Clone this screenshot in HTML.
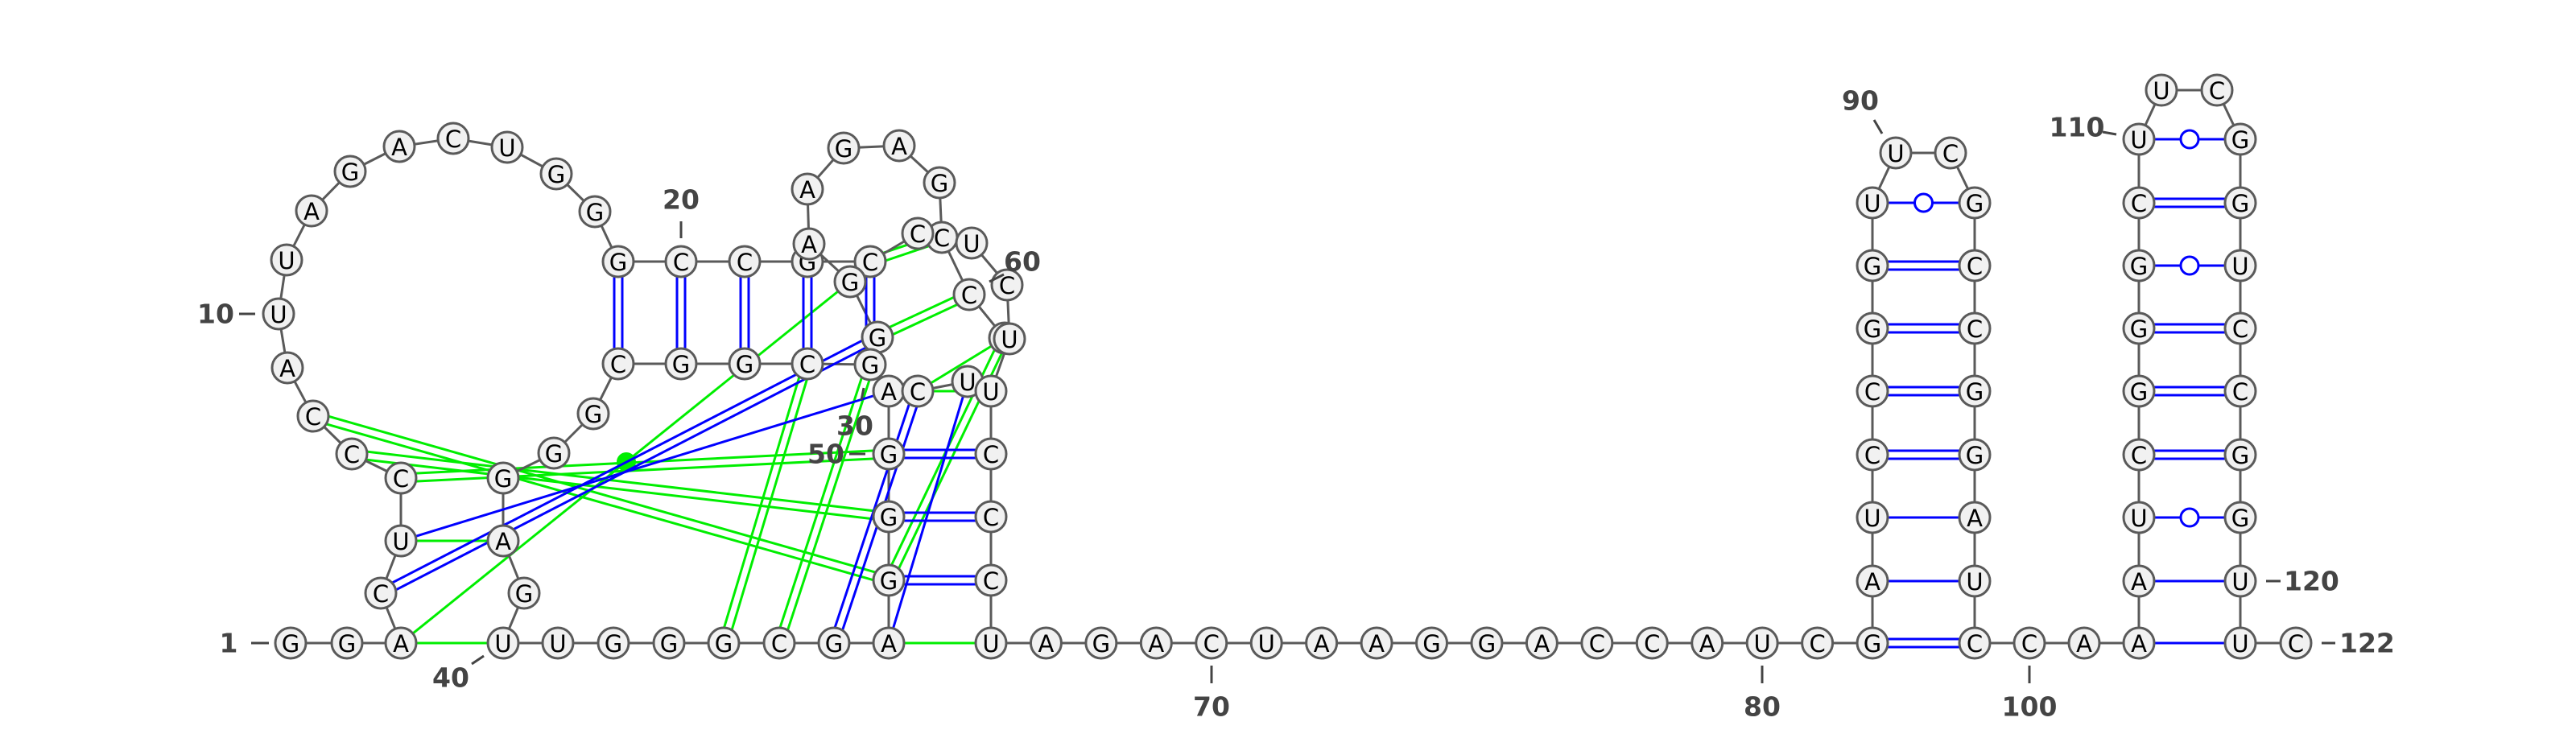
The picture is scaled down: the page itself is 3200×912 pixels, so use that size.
<!DOCTYPE html>
<html><head><meta charset="utf-8"><style>
html,body{margin:0;padding:0;background:#fff;}
svg{display:block;}
.nt{font-family:"DejaVu Sans","Liberation Sans",sans-serif;font-size:29px;fill:#000;text-anchor:middle;dominant-baseline:central;}
.lbl{font-family:"DejaVu Sans","Liberation Sans",sans-serif;font-size:33px;font-weight:bold;fill:#444;dominant-baseline:central;}
</style></head><body>
<svg id="chart" width="3200" height="912" viewBox="0 0 3200 912" xmlns="http://www.w3.org/2000/svg">
<g id="lines-green"></g>
<g id="lines-bb"></g>
<g id="lines-pair"></g>
<g id="nodes"></g>
<g id="labels"></g>
</svg>
<script>
const NS="http://www.w3.org/2000/svg";
const nodeIds=[];const nodeLetters=[];const nodeX=[];const nodeY=[];
function N(id,l,x,y){nodeIds.push(id);nodeLetters.push(l);nodeX.push(x);nodeY.push(y);}
N(1,'G',361,799);N(2,'G',431,799);N(3,'A',498,799);N(4,'C',473,737);N(5,'U',498,672);
N(6,'C',498,594);N(7,'C',437,564);N(8,'C',389,517);N(9,'A',357,457);N(10,'U',346,390);
N(11,'U',356,323);N(12,'A',387,262);N(13,'G',435,213);N(14,'A',496,182);N(15,'C',563,172);
N(16,'U',630,183);N(17,'G',691,216);N(18,'G',739,263);N(19,'G',768,325);N(20,'C',846,325);
N(21,'C',925,325);N(22,'G',1003,325);N(23,'C',1081,325);
N('a','A',1005,303);N('b','A',1003,235);N('c','G',1048,184);N('d','A',1117,181);N('e','G',1167,227);
N('f','C',1170,295);N('g','C',1140,290);N('h','U',1207,302);N(60,'C',1251,354);N('i','C',1204,366);
N('j','U',1248,420);N('k','U',1254,421);N(28,'G',1056,350);N(29,'G',1090,419);
N(30,'G',1081,453);N(31,'C',1003,452);N(32,'G',925,452);N(33,'G',846,452);N(34,'C',768,452);
N(35,'G',737,514);N(36,'G',688,563);N(37,'G',625,594);N(38,'A',625,672);N(39,'G',651,737);
N(40,'U',625,799);N(41,'U',693,799);N(42,'G',762,799);N(43,'G',831,799);N(44,'G',899,799);
N(45,'C',968,799);N(46,'G',1036,799);N(47,'A',1104,799);N(48,'G',1104,721);N(49,'G',1104,642);
N(50,'G',1104,564);N(51,'A',1104,486);N(52,'C',1140,486);N(53,'U',1202,474);
N(62,'U',1231,486);N(63,'C',1231,564);N(64,'C',1231,642);N(65,'C',1231,721);
const tail="UAGACUAAGGACCAUC".split('');
for(let i=0;i<=16;i++){N(66+i,i==16?'G':(i==0?'U':tail[i]),1231+i*68.44,799);}
const rowY=[799,722,643,565,486,408,330,252];
const h1L="GAUCCGGU".split(''),h1R="CUAGGCCG".split('');
const H1L=2326,H1R=2453;
for(let r=0;r<8;r++){ if(r>0)N(82+r,h1L[r],H1L,rowY[r]); N(99-r,h1R[r],H1R,rowY[r]); }
N(90,'U',2355,190);N(91,'C',2423,190);
N(100,'C',2521,799);N(101,'A',2589,799);
const h2L="AAUCGGGCU".split(''),h2R="UUGGCCUGG".split('');
const rowY2=[799,722,643,565,486,408,330,252,173];
const H2L=2657,H2R=2783;
for(let r=0;r<9;r++){N(102+r,h2L[r],H2L,rowY2[r]);N(121-r,h2R[r],H2R,rowY2[r]);}
N(111,'U',2685,112);N(112,'C',2754,112);N(122,'C',2852,799);
function P(id){const i=nodeIds.indexOf(id);return [nodeX[i],nodeY[i]];}
const bb=[];
for(let i=1;i<23;i++)bb.push([i,i+1]);
bb.push([23,'g'],['a','b'],['b','c'],['c','d'],['d','e'],['e','f'],['f','i'],['i','j'],['h',60],[60,'k'],['a',28],[28,29],[29,30],
[30,31],[31,32],[32,33],[33,34],[34,35],[35,36],[36,37],[37,38],[38,39],[39,40],[30,51],[52,53],[53,62],['k',62]);
for(let i=40;i<51;i++)bb.push([i,i+1]);
for(let i=62;i<122;i++)bb.push([i,i+1]);
const pairs=[[19,34,2],[20,33,2],[21,32,2],[22,31,2],[23,30,2],[50,63,2],[49,64,2],[48,65,2],
[82,99,2],[83,98,1],[84,97,1],[85,96,2],[86,95,2],[87,94,2],[88,93,2],[89,92,3],
[102,121,1],[103,120,1],[104,119,3],[105,118,2],[106,117,2],[107,116,2],[108,115,3],[109,114,2],[110,113,3],
[4,29,2],[5,51,1],[46,52,2],[47,53,1]];
const greens=[[8,48,2],[7,49,2],[6,50,2],[3,28,1],[3,40,1],[5,38,1],[47,66,1],[44,31,2],[45,30,2],[48,'j',2],[52,'j',1],[52,62,1],[29,'i',2],[23,'f',2]];
function line(g,x1,y1,x2,y2,c,w,name){const l=document.createElementNS(NS,'line');
l.setAttribute('x1',x1);l.setAttribute('y1',y1);l.setAttribute('x2',x2);l.setAttribute('y2',y2);
l.setAttribute('stroke',c);l.setAttribute('stroke-width',w);


g.appendChild(l);return l;}
function conn(g,a,b,type,c,name){const [x1,y1]=P(a),[x2,y2]=P(b);
 if(type==2){const dx=x2-x1,dy=y2-y1,L=Math.hypot(dx,dy),ox=-dy/L*5,oy=dx/L*5;
  line(g,x1+ox,y1+oy,x2+ox,y2+oy,c,3,name);line(g,x1-ox,y1-oy,x2-ox,y2-oy,c,3,name);}
 else line(g,x1,y1,x2,y2,c,3,name);
 if(type==3){const ci=document.createElementNS(NS,'circle');ci.setAttribute('cx',(x1+x2)/2);ci.setAttribute('cy',(y1+y2)/2);ci.setAttribute('r',11);
  ci.setAttribute('fill','#fff');ci.setAttribute('stroke',c);ci.setAttribute('stroke-width',3);
  
  
  g.appendChild(ci);}}
const gG=document.getElementById('lines-green'),gB=document.getElementById('lines-bb'),gP=document.getElementById('lines-pair');
bb.forEach(e=>conn(gB,e[0],e[1],1,'#5a5a5a','backbone-link'));
pairs.forEach(p=>conn(gP,p[0],p[1],p[2],'#0000ff','base-pair-line'));
greens.forEach(p=>conn(gG,p[0],p[1],p[2],'#00ee00','tertiary-interaction-line'));
const dot=document.createElementNS(NS,'circle');dot.setAttribute('cx',778);dot.setAttribute('cy',574);dot.setAttribute('r',12);dot.setAttribute('fill','#00ee00');


gG.appendChild(dot);
const gN=document.getElementById('nodes');
for(let i=0;i<nodeIds.length;i++){
 const c=document.createElementNS(NS,'circle');c.setAttribute('cx',nodeX[i]);c.setAttribute('cy',nodeY[i]);c.setAttribute('r',19);
 c.setAttribute('fill','#f1f1f1');c.setAttribute('stroke','#5a5a5a');c.setAttribute('stroke-width',3);
 
 
 gN.appendChild(c);
 const t=document.createElementNS(NS,'text');t.setAttribute('x',nodeX[i]);t.setAttribute('y',nodeY[i]+1);t.setAttribute('class','nt');t.textContent=nodeLetters[i];
 
 
 gN.appendChild(t);
}
const labelText=['1','10','20','30','40','50','60','70','80','90','100','110','120','122'];
const labelX=[284,268,846,1062,560,1026,1270,1505,2189,2311,2521,2580,2837,2906];
const labelY=[799,390,248,529,842,564,325,878,878,125,878,158,722,799];
const ticks=[[312,799,334,799],[297,390,317,390],[846,275,846,296],[1073,482,1070,497],[586,825,601,815],[1055,564,1075,564],[1229,350,1247,341],[1505,827,1505,849],[2189,827,2189,849],[2328,149,2338,166],[2521,827,2521,849],[2612,164,2629,167],[2815,722,2833,722],[2884,799,2901,799]];
const gL=document.getElementById('labels');
for(let i=0;i<labelText.length;i++){
 const t=document.createElementNS(NS,'text');t.setAttribute('x',labelX[i]);t.setAttribute('y',labelY[i]);t.setAttribute('class','lbl');
 t.setAttribute('text-anchor',(i==12||i==13)?'start':'middle');t.textContent=labelText[i];
 
 
 gL.appendChild(t);
 const k=ticks[i];line(gL,k[0],k[1],k[2],k[3],'#444',3,'position-tick');
}
</script>
</body></html>
